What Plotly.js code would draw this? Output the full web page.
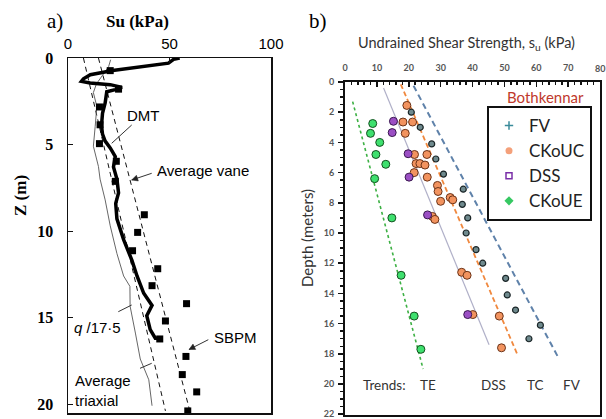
<!DOCTYPE html>
<html><head><meta charset="utf-8">
<script src="https://cdn.plot.ly/plotly-3.0.1.min.js"></script>
<style>html,body{margin:0;padding:0;background:#fff}#chart{width:606px;height:419px}</style>
</head><body><div id="chart"></div>
<script>
// ---------- Panel a data (Su in kPa, depth Z in m) ----------
const dmtSu    = [55,52,49.5,35,22,11,7.6,6.6,10.9,20.8,26.6,23.3,19.1,18.3,17,16.5,17,18.3,20.8,23.3,22.4,24.1,24.9,23.5,24.1,27.4,31.5,34,37.3,41.4,38.8,40.5,43,46.4];
const dmtZ     = [0.0,0.08,0.3,0.5,0.72,0.97,1.2,1.35,1.45,1.54,1.7,1.83,1.95,2.6,3.2,3.9,4.4,4.8,5.2,5.7,6.3,7.0,7.8,8.4,9.3,10.5,11.7,12.6,13.6,14.3,14.9,15.7,16.2,16.2];
const sbpmSu   = [20.8,24.9,15.5,15.8,15.5,23.8,23.3,37.6,34.3,31.8,44.2,41.4,58.4,48,45.2,58.1,56.3,63.4,59];
const sbpmZ    = [0.73,1.8,2.83,3.86,4.95,5.97,7.13,9.06,10.08,11.14,12.18,13.16,14.2,15.2,16.24,17.25,18.3,19.3,20.4];
const qSu      = [21,20,17,14,12.5,14.2,13.4,12.5,15,15.8,18.3,20.8,24.1,27.4,30.5,30.6,33.2,35.6,39.8,41.4];
const qZ       = [0.1,0.5,1.0,1.5,2.0,2.8,3.95,5.1,6.27,7.0,8.2,9.7,11.3,12.6,13.2,14.35,15.9,17.4,18.6,20.1];
const vaneSu   = [15,60];
const vaneZ    = [0,20.4];
const triaxSu  = [7.6,48];
const triaxZ   = [0,20.4];

// ---------- Panel b data (su in kPa, depth in m) ----------
const fvSu    = [20.8,23.6,27.2,28.5,30.9,37.1,36.8,38.5,38,41.1,43.2,50.4,50.9,53.5,61.3,57.7];
const fvZ     = [2.0,3.0,4.1,5.1,6.1,7.1,8.1,9.0,10.0,11.1,12.0,13.0,14.1,15.1,16.1,17.0];
const ucSu    = [19.4,18.2,21.2,18.9,21.8,25.7,22.3,23.5,25.1,21.7,25.8,29.0,29.2,30.0,33.0,33.8,27.4,28.2,36.6,38.3,40.1,48.4,49.1];
const ucZ     = [1.55,2.65,2.65,3.4,4.8,4.8,5.4,5.4,5.5,6.0,6.3,6.85,7.25,7.9,7.65,7.8,8.9,9.1,12.6,12.8,15.4,15.5,17.6];
const dssSu   = [15.2,14.8,19.8,20.1,25.9,38.5];
const dssZ    = [2.6,3.35,4.75,6.3,8.8,15.4];
const ueSu    = [8.7,8.0,10.9,9.7,12.8,9.3,14.7,17.6,21.7,23.8];
const ueZ     = [2.75,3.4,4.0,4.8,5.45,6.4,9.0,12.8,15.5,17.7];
const trendTE  = {su:[2.4,24.5],  z:[1.3,19.0]};
const trendDSS = {su:[12.1,45.2], z:[0.4,17.4]};
const trendTC  = {su:[17.5,54.0], z:[0.15,18.0]};
const trendFV  = {su:[21.5,66.8], z:[0.25,18.2]};
const xTicksB = [0,10,20,30,40,50,60,70];
const xLastTickB = '80';
const legendNames = ['FV','CKoUC','DSS','CKoUE'];
const trendLabels = ['Trends:','TE','DSS','TC','FV'];

// ---------- helpers ----------
const W=606,H=419;
const px=x=>x/W, py=y=>1-y/H;

const traces = [
  // panel a
  {x:vaneSu,y:vaneZ,xaxis:'x',yaxis:'y',mode:'lines',line:{color:'#111',width:1,dash:'5px,4px'},showlegend:false},
  {x:triaxSu,y:triaxZ,xaxis:'x',yaxis:'y',mode:'lines',line:{color:'#111',width:1,dash:'5px,4px'},showlegend:false},
  {x:qSu,y:qZ,xaxis:'x',yaxis:'y',mode:'lines',line:{color:'#555',width:0.9},showlegend:false},
  {x:dmtSu,y:dmtZ,xaxis:'x',yaxis:'y',mode:'lines',line:{color:'#000',width:3.5},showlegend:false},
  {x:sbpmSu,y:sbpmZ,xaxis:'x',yaxis:'y',mode:'markers',marker:{symbol:'square',size:7,color:'#000'},showlegend:false},
  // panel b trends
  {x:trendTE.su,y:trendTE.z,xaxis:'x2',yaxis:'y2',mode:'lines',line:{color:'#3cb043',width:1.6,dash:'dot'},showlegend:false},
  {x:trendDSS.su,y:trendDSS.z,xaxis:'x2',yaxis:'y2',mode:'lines',line:{color:'#b0b0c8',width:1.2},showlegend:false},
  {x:trendTC.su,y:trendTC.z,xaxis:'x2',yaxis:'y2',mode:'lines',line:{color:'#f0883e',width:1.8,dash:'5px,3px'},showlegend:false},
  {x:trendFV.su,y:trendFV.z,xaxis:'x2',yaxis:'y2',mode:'lines',line:{color:'#5f82aa',width:2,dash:'6px,4px'},showlegend:false},
  // panel b data
  {x:fvSu,y:fvZ,xaxis:'x2',yaxis:'y2',mode:'markers',marker:{symbol:'circle',size:6,color:'#6f8a8e',line:{color:'#1b2628',width:1.2}},showlegend:false},
  {x:ucSu,y:ucZ,xaxis:'x2',yaxis:'y2',mode:'markers',marker:{symbol:'circle',size:8,color:'#f2935f',line:{color:'#6b3318',width:1}},showlegend:false},
  {x:dssSu,y:dssZ,xaxis:'x2',yaxis:'y2',mode:'markers',marker:{symbol:'circle',size:8,color:'#9b4fc4',line:{color:'#3a1850',width:1}},showlegend:false},
  {x:ueSu,y:ueZ,xaxis:'x2',yaxis:'y2',mode:'markers',marker:{symbol:'circle',size:8,color:'#3ee06e',line:{color:'#14501f',width:1}},showlegend:false},
  // legend entries
  {x:[null],y:[null],xaxis:'x2',yaxis:'y2',mode:'markers',name:legendNames[0],marker:{symbol:'cross-thin',size:6,color:'#3a8b9a',line:{color:'#3a8b9a',width:1.5}}},
  {x:[null],y:[null],xaxis:'x2',yaxis:'y2',mode:'markers',name:legendNames[1],marker:{symbol:'circle',size:7,color:'#f4a07a'}},
  {x:[null],y:[null],xaxis:'x2',yaxis:'y2',mode:'markers',name:legendNames[2],marker:{symbol:'square-open',size:6,color:'#7a2fa8',line:{width:1.5}}},
  {x:[null],y:[null],xaxis:'x2',yaxis:'y2',mode:'markers',name:legendNames[3],marker:{symbol:'diamond',size:7,color:'#36c862'}}
];

const serif='Liberation Serif, Times New Roman, serif';
const sans='Liberation Sans, Arial, sans-serif';
const cal='Lato, Open Sans, sans-serif';

const ann=[], shapes=[];
function T(text,x,y,o){ann.push(Object.assign({text:text,xref:'paper',yref:'paper',x:px(x),y:py(y),showarrow:false,xanchor:'center',yanchor:'middle'},o||{}));}
// leader line from tail (tx,ty) to head (hx,hy), optional arrowhead at head
function L(hx,hy,tx,ty,head){
  shapes.push({type:'line',xref:'paper',yref:'paper',x0:px(tx),y0:py(ty),x1:px(hx),y1:py(hy),line:{color:'#333',width:1}});
  if(head){
    const dx=hx-tx, dy=hy-ty, len=Math.hypot(dx,dy), ux=dx/len, uy=dy/len, s=6, w=3;
    const bx=hx-ux*s, by=hy-uy*s;
    const p1=[bx-uy*w,by+ux*w], p2=[bx+uy*w,by-ux*w];
    shapes.push({type:'path',xref:'paper',yref:'paper',
      path:`M ${px(hx)} ${py(hy)} L ${px(p1[0])} ${py(p1[1])} L ${px(p2[0])} ${py(p2[1])} Z`,
      fillcolor:'#222',line:{color:'#222',width:0.5}});
  }
}

// panel a text
T('a)',55,21,{font:{family:serif,size:21,color:'#000'}});
T('<b>Su (kPa)</b>',137,22,{font:{family:serif,size:17,color:'#000'}});
T('<b>Z (m)</b>',20,195,{textangle:-90,font:{family:serif,size:17,color:'#000'}});
T('DMT',143,115,{font:{family:sans,size:15,color:'#000'}});
L(111.7,143.3,131.7,125,false);
T('Average vane',155,170,{xanchor:'left',font:{family:sans,size:15,color:'#000'}});
L(131.7,180,151.7,173.3,true);
T('<i>q</i> /17·5',72,327,{xanchor:'left',font:{family:sans,size:15,color:'#000'}});
L(131.7,305,118.3,311.7,false);
T('SBPM',212,337,{xanchor:'left',font:{family:sans,size:15,color:'#000'}});
L(189,349.5,208.3,339.7,true);
T('Average',73,380,{xanchor:'left',font:{family:sans,size:15,color:'#000'}});
T('triaxial',73,400,{xanchor:'left',font:{family:sans,size:15,color:'#000'}});
L(151.7,363.3,140,368.3,false);

// panel b text
T('b)',318,21,{font:{family:serif,size:21,color:'#000'}});
T('Undrained Shear Strength, s<sub>u</sub> (kPa)',466,43,{font:{family:cal,size:14.5,color:'#333'}});
T('Depth (meters)',307,238,{textangle:-90,font:{family:cal,size:15,color:'#333'}});
T('Bothkennar',545,97,{font:{family:cal,size:15,color:'#c0392b'}});
T('<b>'+xLastTickB+'</b>',600,69,{font:{family:cal,size:9,color:'#555'}});
const trendX=[384,428,493,535,572];
trendLabels.forEach((t,i)=>T(t,trendX[i],385,{font:{family:cal,size:13.5,color:'#333'}}));

const layout={
  width:W,height:H,margin:{l:0,r:0,t:0,b:0},paper_bgcolor:'#fff',plot_bgcolor:'#fff',
  showlegend:true,
  legend:{x:px(487),y:py(106),xanchor:'left',yanchor:'top',bordercolor:'#111',borderwidth:2,bgcolor:'#fff',
    font:{family:cal,size:17,color:'#222'},itemwidth:30,tracegroupgap:0},
  xaxis:{domain:[px(68),px(271)],range:[0,100],side:'top',anchor:'y',tickvals:[0,50,100],ticks:'inside',ticklen:5,tickcolor:'#111',
    showline:true,mirror:true,linecolor:'#111',linewidth:1.5,showgrid:false,zeroline:false,ticklabeloverflow:'allow',
    tickfont:{family:sans,size:15,color:'#000'},ticklabelstandoff:2},
  yaxis:{domain:[py(413),py(58)],range:[20.52,0],anchor:'x',tickvals:[0,5,10,15,20],ticks:'inside',ticklen:5,tickcolor:'#111',
    showline:true,mirror:true,linecolor:'#111',linewidth:1.5,showgrid:false,zeroline:false,ticklabeloverflow:'allow',
    tickfont:{family:serif,size:16,color:'#000',weight:'bold'},ticklabelstandoff:10},
  xaxis2:{domain:[px(345),px(600)],range:[0,80],side:'top',anchor:'y2',tickmode:'array',tickvals:xTicksB,
    ticks:'inside',ticklen:5,tickcolor:'#111',tickwidth:1.5,
    minor:{tickmode:'linear',tick0:0,dtick:2,ticks:'inside',ticklen:3,tickcolor:'#111'},ticklabeloverflow:'allow',
    showline:true,mirror:true,linecolor:'#111',linewidth:2,showgrid:false,zeroline:false,
    tickfont:{family:cal,size:9,color:'#555',weight:'bold'},ticklabelstandoff:5},
  yaxis2:{domain:[py(415),py(82)],range:[22.05,0],anchor:'x2',tick0:0,dtick:2,ticks:'outside',ticklen:5,tickcolor:'#111',tickwidth:1.5,
    minor:{dtick:0.5,ticks:'outside',ticklen:3,tickcolor:'#111'},ticklabeloverflow:'allow',
    showline:true,mirror:true,linecolor:'#111',linewidth:2,showgrid:false,zeroline:false,
    tickfont:{family:cal,size:9,color:'#555',weight:'bold'},ticklabelstandoff:2},
  annotations:ann,
  shapes:shapes
};
Plotly.newPlot('chart',traces,layout,{staticPlot:true});
</script></body></html>
